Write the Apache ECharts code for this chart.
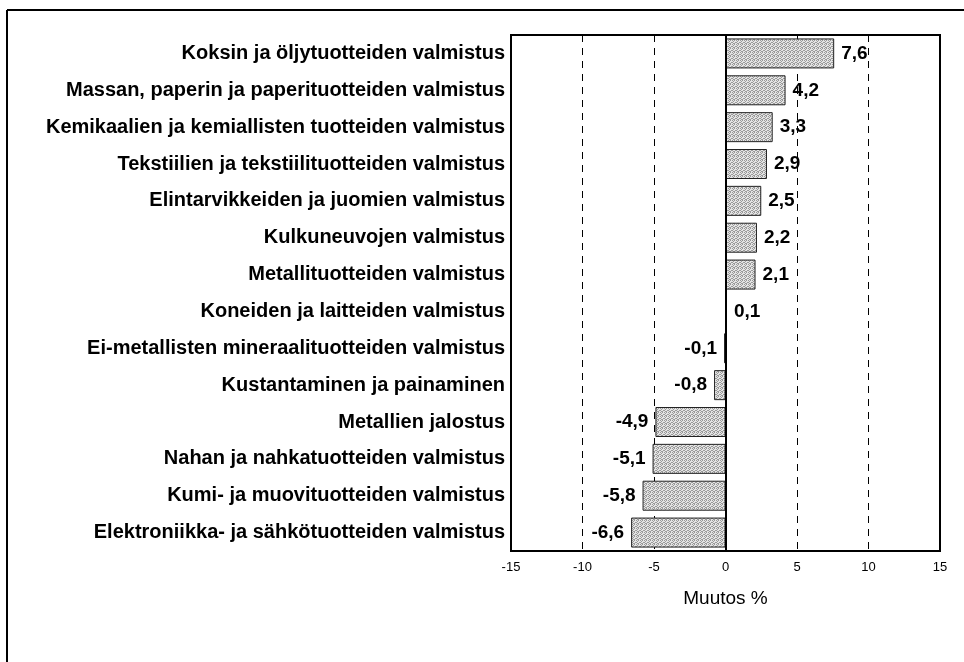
<!DOCTYPE html>
<html>
<head>
<meta charset="utf-8">
<script src="https://cdn.jsdelivr.net/npm/echarts@6/dist/echarts.min.js"></script>
<style>
html,body{margin:0;padding:0;background:#fff;}
#chart{width:964px;height:662px;}
</style>
</head>
<body>
<div id="chart"></div>
<script>
const categories = [
  "Koksin ja öljytuotteiden valmistus",
  "Massan, paperin ja paperituotteiden valmistus",
  "Kemikaalien ja kemiallisten tuotteiden valmistus",
  "Tekstiilien ja tekstiilituotteiden valmistus",
  "Elintarvikkeiden ja juomien valmistus",
  "Kulkuneuvojen valmistus",
  "Metallituotteiden valmistus",
  "Koneiden ja laitteiden valmistus",
  "Ei-metallisten mineraalituotteiden valmistus",
  "Kustantaminen ja painaminen",
  "Metallien jalostus",
  "Nahan ja nahkatuotteiden valmistus",
  "Kumi- ja muovituotteiden valmistus",
  "Elektroniikka- ja sähkötuotteiden valmistus"
];
const values = [7.6, 4.2, 3.3, 2.9, 2.5, 2.2, 2.1, 0.1, -0.1, -0.8, -4.9, -5.1, -5.8, -6.6];
const axisName = "Muutos %";

// stipple texture
const pc = document.createElement('canvas');
pc.width = 4; pc.height = 4;
const pctx = pc.getContext('2d');
pctx.fillStyle = '#e4e4e4'; pctx.fillRect(0,0,4,4);
pctx.fillStyle = '#9a9a9a';
[[0,0],[2,0],[1,1],[3,2],[0,2],[2,3],[1,3]].forEach(p=>pctx.fillRect(p[0],p[1],1,1));

const chart = echarts.init(document.getElementById('chart'));
chart.setOption({
  animation: false,
  backgroundColor: '#fff',
  grid: {left: 511, right: 24, top: 35, bottom: 111, show: true, borderColor: '#000', borderWidth: 2, backgroundColor: 'transparent'},
  xAxis: {
    type: 'value', min: -15, max: 15, interval: 5,
    name: axisName, nameLocation: 'middle', nameGap: 38,
    nameTextStyle: {fontFamily: 'Liberation Sans, Arial', fontSize: 19, color: '#000'},
    axisLine: {show: false},
    axisTick: {show: false},
    axisLabel: {fontFamily: 'Liberation Sans, Arial', fontSize: 13, color: '#000', margin: 10},
    splitLine: {show: true, lineStyle: {color: '#000', type: [7, 6], width: 1}}
  },
  yAxis: {
    type: 'category', data: categories, inverse: true,
    axisLine: {show: false, onZero: false},
    axisTick: {show: false},
    axisLabel: {fontFamily: 'Liberation Sans, Arial', fontWeight: 'bold', fontSize: 20, color: '#000', margin: 6}
  },
  series: [{
    type: 'bar', barWidth: 30,
    data: values.map(v => ({value: v, label: {position: v < 0 ? 'left' : 'right'}})),
    itemStyle: {color: {image: pc, repeat: 'repeat'}, borderColor: '#222', borderWidth: 1},
    label: {
      show: true,
      distance: 7,
      fontFamily: 'Liberation Sans, Arial',
      fontWeight: 'bold', fontSize: 19, color: '#000',
      formatter: p => String(p.value).replace('.', ',')
    },
    markLine: {
      silent: true, symbol: 'none', label: {show: false},
      lineStyle: {color: '#000', type: 'solid', width: 2},
      data: [{xAxis: 0}]
    }
  }],
  graphic: [
    {type: 'line', shape: {x1: 7, y1: 10, x2: 964, y2: 10}, style: {stroke: '#000', lineWidth: 2}},
    {type: 'line', shape: {x1: 7, y1: 10, x2: 7, y2: 662}, style: {stroke: '#000', lineWidth: 2}}
  ]
});
</script>
</body>
</html>
